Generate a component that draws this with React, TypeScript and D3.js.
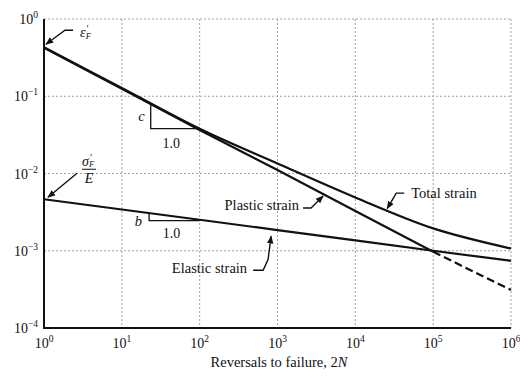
import { useEffect, useRef } from "react";
import * as d3 from "d3";

// strain-life curve, values read at each decade of 2N
const reversals = [1, 1e1, 1e2, 1e3, 1e4, 1e5, 1e6];
const totalStrain = [0.43, 0.128, 0.038, 0.0135, 0.0049, 0.00195, 0.00107];
const plasticStrain = [0.425, 0.125, 0.0366, 0.0111, 0.00327, 0.00097, 0.00031];
const elasticStrain = [0.00464, 0.00342, 0.00252, 0.00185, 0.00136, 0.001, 0.00074];

const xTickValues = [1, 1e1, 1e2, 1e3, 1e4, 1e5, 1e6];
const xTickExponents = ["0", "1", "2", "3", "4", "5", "6"];
const yTickValues = [1, 1e-1, 1e-2, 1e-3, 1e-4];
const yTickExponents = ["0", "\u22121", "\u22122", "\u22123", "\u22124"];

// slope triangles (2N at both ends, strain at top and bottom)
const cTriangleReversals = [23.5, 100];
const cTriangleStrain = [0.079, 0.038];
const bTriangleReversals = [22.4, 100];
const bTriangleStrain = [0.00305, 0.00245];

// callouts: label and the point on the curve the arrow touches
const calloutLabels = ["Plastic strain", "Total strain", "Elastic strain"];
const calloutReversals = [3850, 25700, 828];
const calloutStrain = [0.00535, 0.00341, 0.0019];

const FONT = "'Liberation Serif', 'Times New Roman', serif";

export default function App() {
  const svgRef = useRef<SVGSVGElement>(null);

  useEffect(() => {
    if (!svgRef.current) return;
    const width = 520;
    const height = 378;
    const margin = { top: 19, right: 9, bottom: 50, left: 44 };

    const svg = d3.select(svgRef.current);
    svg.selectAll("*").remove();
    svg.attr("width", width).attr("height", height);

    const x = d3
      .scaleLog()
      .domain([1, 1e6])
      .range([margin.left, width - margin.right]);
    const y = d3
      .scaleLog()
      .domain([1e-4, 1])
      .range([height - margin.bottom, margin.top]);

    const [x0, x1] = x.range();
    const [y0, y1] = y.range();

    svg
      .append("defs")
      .append("marker")
      .attr("id", "head")
      .attr("viewBox", "0 0 10 10")
      .attr("refX", 9)
      .attr("refY", 5)
      .attr("markerWidth", 8)
      .attr("markerHeight", 8)
      .attr("markerUnits", "userSpaceOnUse")
      .attr("orient", "auto")
      .append("path")
      .attr("d", "M0,1 L10,5 L0,9 Z")
      .style("fill", "#111");

    // grid lines
    const grid = svg.append("g");
    grid
      .selectAll("line.v")
      .data(xTickValues.slice(1))
      .enter()
      .append("line")
      .attr("x1", (d) => x(d))
      .attr("x2", (d) => x(d))
      .attr("y1", y1)
      .attr("y2", y0)
      .style("stroke", "#a0a0a0")
      .style("stroke-width", "1px")
      .style("stroke-dasharray", "2,2");
    grid
      .selectAll("line.h")
      .data(yTickValues.slice(0, -1))
      .enter()
      .append("line")
      .attr("x1", x0)
      .attr("x2", x1)
      .attr("y1", (d) => y(d))
      .attr("y2", (d) => y(d))
      .style("stroke", "#a0a0a0")
      .style("stroke-width", "1px")
      .style("stroke-dasharray", "2,2");

    // left and bottom axes
    svg
      .append("path")
      .attr("d", `M${x0},${y1} L${x0},${y0} L${x1},${y0}`)
      .style("fill", "none")
      .style("stroke", "#111")
      .style("stroke-width", "2px");

    // tick labels
    xTickValues.forEach((v, i) => {
      const t = svg
        .append("text")
        .attr("x", x(v))
        .attr("y", y0 + 20)
        .attr("text-anchor", "middle")
        .style("font-family", FONT)
        .style("font-size", "14px")
        .style("fill", "#111");
      t.append("tspan").text("10");
      t.append("tspan")
        .attr("dy", -6)
        .style("font-size", "9.5px")
        .text(xTickExponents[i]);
    });
    yTickValues.forEach((v, i) => {
      const t = svg
        .append("text")
        .attr("x", 38)
        .attr("y", y(v) + 5)
        .attr("text-anchor", "end")
        .style("font-family", FONT)
        .style("font-size", "14px")
        .style("fill", "#111");
      t.append("tspan").text("10");
      t.append("tspan")
        .attr("dy", -6)
        .style("font-size", "9.5px")
        .text(yTickExponents[i]);
    });

    // axis title
    const title = svg
      .append("text")
      .attr("x", 279)
      .attr("y", 367)
      .attr("text-anchor", "middle")
      .style("font-family", FONT)
      .style("font-size", "14.5px")
      .style("fill", "#111");
    title.append("tspan").text("Reversals to failure, 2");
    title.append("tspan").style("font-style", "italic").text("N");

    // curves
    const pts = (vals: number[]) =>
      reversals.map((r, i) => [x(r), y(vals[i])] as [number, number]);
    const smooth = d3.line().curve(d3.curveCatmullRom.alpha(0.5));
    const straight = d3.line();

    const curveStyle = (sel: d3.Selection<SVGPathElement, unknown, null, undefined>) =>
      sel
        .style("fill", "none")
        .style("stroke", "#111")
        .style("stroke-width", "2.2px")
        .style("stroke-linejoin", "round");

    const plasticPts = pts(plasticStrain);
    const cut = reversals.indexOf(1e5);
    curveStyle(svg.append("path").attr("d", straight(plasticPts.slice(0, cut + 1))));
    curveStyle(svg.append("path").attr("d", straight(plasticPts.slice(cut)))).style(
      "stroke-dasharray",
      "8,4"
    );
    curveStyle(svg.append("path").attr("d", straight(pts(elasticStrain))));
    curveStyle(svg.append("path").attr("d", smooth(pts(totalStrain))));

    // slope triangles
    const triangle = (rev: number[], strain: number[]) =>
      svg
        .append("path")
        .attr(
          "d",
          `M${x(rev[0])},${y(strain[0])} L${x(rev[0])},${y(strain[1])} L${x(rev[1])},${y(strain[1])}`
        )
        .style("fill", "none")
        .style("stroke", "#111")
        .style("stroke-width", "1.3px");
    triangle(cTriangleReversals, cTriangleStrain);
    triangle(bTriangleReversals, bTriangleStrain);

    const label = (
      tx: number,
      ty: number,
      text: string,
      opts: { italic?: boolean; size?: number; anchor?: string } = {}
    ) =>
      svg
        .append("text")
        .attr("x", tx)
        .attr("y", ty)
        .attr("text-anchor", opts.anchor ?? "start")
        .style("font-family", FONT)
        .style("font-size", `${opts.size ?? 14.5}px`)
        .style("font-style", opts.italic ? "italic" : "normal")
        .style("fill", "#111")
        .text(text);

    const cx0 = x(cTriangleReversals[0]);
    const cMid = (x(cTriangleReversals[0]) + x(cTriangleReversals[1])) / 2;
    label(cx0 - 6, (y(cTriangleStrain[0]) + y(cTriangleStrain[1])) / 2 + 5, "c", {
      italic: true,
      anchor: "end",
    });
    label(cMid - 4, y(cTriangleStrain[1]) + 19, "1.0", { size: 14, anchor: "middle" });

    const bx0 = x(bTriangleReversals[0]);
    const bMid = (x(bTriangleReversals[0]) + x(bTriangleReversals[1])) / 2;
    label(bx0 - 7, y(bTriangleStrain[1]) + 5, "b", { italic: true, anchor: "end" });
    label(bMid - 3, y(bTriangleStrain[1]) + 17, "1.0", { size: 14, anchor: "middle" });

    const arrow = (tip: [number, number], rel: [number, number][]) =>
      svg
        .append("path")
        .attr(
          "d",
          d3.line()(rel.map(([dx, dy]) => [tip[0] + dx, tip[1] + dy] as [number, number]))
        )
        .attr("marker-end", "url(#head)")
        .style("fill", "none")
        .style("stroke", "#111")
        .style("stroke-width", "1.4px");

    // epsilon'_F callout at 2N = 1 (prime stacked over the subscript)
    const eTip: [number, number] = [x(reversals[0]), y(plasticStrain[0])];
    arrow(eTip, [
      [29, -17.5],
      [21, -17.5],
      [2, -3.5],
    ]);
    const eps = svg
      .append("text")
      .attr("x", eTip[0] + 36)
      .attr("y", eTip[1] - 11)
      .style("font-family", FONT)
      .style("fill", "#111");
    eps.append("tspan").style("font-size", "14px").style("font-style", "italic").text("\u03b5");
    eps.append("tspan").attr("dx", 1).attr("dy", -5).style("font-size", "10px").text("\u2032");
    eps
      .append("tspan")
      .attr("dx", -3)
      .attr("dy", 7)
      .style("font-size", "8.5px")
      .style("font-style", "italic")
      .text("F");

    // sigma'_F / E callout at 2N = 1
    const sTip: [number, number] = [x(reversals[0]), y(elasticStrain[0])];
    arrow(sTip, [
      [33, -26],
      [4, -2],
    ]);
    const sig = svg
      .append("text")
      .attr("x", sTip[0] + 38)
      .attr("y", sTip[1] - 33)
      .style("font-family", FONT)
      .style("fill", "#111");
    sig.append("tspan").style("font-size", "14px").style("font-style", "italic").text("\u03c3");
    sig.append("tspan").attr("dx", 1).attr("dy", -5).style("font-size", "10px").text("\u2032");
    sig
      .append("tspan")
      .attr("dx", -3)
      .attr("dy", 6)
      .style("font-size", "8.5px")
      .style("font-style", "italic")
      .text("F");
    svg
      .append("line")
      .attr("x1", sTip[0] + 38)
      .attr("x2", sTip[0] + 52)
      .attr("y1", sTip[1] - 30)
      .attr("y2", sTip[1] - 30)
      .style("stroke", "#111")
      .style("stroke-width", "1px");
    label(sTip[0] + 45, sTip[1] - 16.5, "E", { italic: true, size: 14, anchor: "middle" });

    // curve callouts
    const calloutPaths: [number, number][][] = [
      [
        [-20, 13.5],
        [-12, 13.5],
        [0, 1.5],
      ],
      [
        [17, -16.5],
        [9, -16.5],
        [0, -1],
      ],
      [
        [-18, 41],
        [-8, 41],
        [-3, 30],
        [0, 7],
      ],
    ];
    const calloutText: [number, number, string][] = [
      [-24, 16, "end"],
      [24, -12, "start"],
      [-24, 44, "end"],
    ];
    calloutLabels.forEach((text, i) => {
      const tip: [number, number] = [x(calloutReversals[i]), y(calloutStrain[i])];
      arrow(tip, calloutPaths[i]);
      const [dx, dy, anchor] = calloutText[i];
      label(tip[0] + dx, tip[1] + dy, text, { anchor });
    });
  }, []);

  return (
    <svg
      ref={svgRef}
      style={{ position: "absolute", left: 0, top: 0, background: "#fff" }}
    />
  );
}
